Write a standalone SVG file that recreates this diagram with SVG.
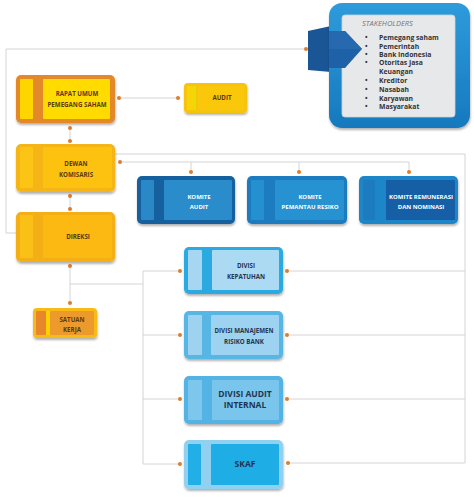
<svg xmlns="http://www.w3.org/2000/svg" width="474" height="498" viewBox="0 0 474 498">
<defs>
<filter id="sh" x="-10%" y="-10%" width="130%" height="140%"><feDropShadow dx="0.5" dy="2" stdDeviation="1.2" flood-color="#000" flood-opacity="0.3"/></filter>
<linearGradient id="stkG" x1="0" y1="0" x2="0" y2="1"><stop offset="0" stop-color="#2E9BDB"/><stop offset="1" stop-color="#1679BE"/></linearGradient>
</defs>
<style>
.ln{fill:none;stroke:#D4D4D4;stroke-width:1}
.dot{fill:#E07B2A}
text{font-family:"Open Sans","Liberation Sans",sans-serif;font-weight:bold;text-anchor:middle}
.ty{fill:#5A3A10;font-size:6.2px}
.tk{fill:#FFFFFF;font-size:6px}
.td{fill:#1F3550;font-size:6.2px}
.tdl{fill:#1F3550;font-size:8.5px}
.st{fill:#333;font-size:6.8px;text-anchor:start}
.bul{fill:#333;font-size:6.8px;text-anchor:start}
</style>
<rect width="474" height="498" fill="#FFFFFF"/>
<g id="connectors">
<path class="ln" d="M16,233 H6 V49 H306"/>
<path class="ln" d="M119,98 H178"/>
<path class="ln" d="M70,128 V141"/>
<path class="ln" d="M70,196 V209"/>
<path class="ln" d="M115,154 H465 V463"/>
<path class="ln" d="M120,162 H409 M191,162 V172 M299,162 V172 M409,162 V172"/>
<path class="ln" d="M70,266 V303 M70,284 H143 M143,271 V464 M143,271 H180 M143,335 H180 M143,399 H180 M143,464 H180"/>
<path class="ln" d="M287,271 H465 M287,335 H465 M287,399 H465 M288,463 H465"/>
<circle class="dot" cx="306" cy="49" r="2"/>
<circle class="dot" cx="119" cy="98" r="2"/>
<circle class="dot" cx="178" cy="98" r="2"/>
<circle class="dot" cx="70" cy="128" r="2"/>
<circle class="dot" cx="70" cy="141" r="2"/>
<circle class="dot" cx="70" cy="196" r="2"/>
<circle class="dot" cx="70" cy="209" r="2"/>
<circle class="dot" cx="120" cy="162" r="2"/>
<circle class="dot" cx="191" cy="172" r="2"/>
<circle class="dot" cx="299" cy="172" r="2"/>
<circle class="dot" cx="409" cy="172" r="2"/>
<circle class="dot" cx="70" cy="266" r="2"/>
<circle class="dot" cx="70" cy="303" r="2"/>
<circle class="dot" cx="180" cy="271" r="2"/>
<circle class="dot" cx="180" cy="335" r="2"/>
<circle class="dot" cx="180" cy="399" r="2"/>
<circle class="dot" cx="180" cy="464" r="2"/>
<circle class="dot" cx="287" cy="271" r="2"/>
<circle class="dot" cx="287" cy="335" r="2"/>
<circle class="dot" cx="287" cy="399" r="2"/>
<circle class="dot" cx="288" cy="463" r="2"/>
</g>
<g id="stakeholders">
<path d="M308,31 L331,26 L331,72 L308,70 Z" fill="#1A5595"/>
<rect x="329" y="3" width="141" height="125" rx="13" fill="url(#stkG)" filter="url(#sh)"/>
<rect x="342" y="15" width="113" height="102" rx="3" fill="#E7E8EA" stroke="#C9D3DC" stroke-width="0.8"/>
<path d="M329,31 L345,31 L362,49 L345,68 L329,68 Z" fill="#1F61A6"/>
<path d="M329,31 L345,31 L362,49 L329,49 Z" fill="#2669AE"/>
<text x="362" y="26" style="font-weight:normal;font-style:italic;font-size:7.5px;fill:#777;text-anchor:start">STAKEHOLDERS</text>
<text class="bul" x="365" y="40">•</text><text class="st" x="379" y="40">Pemegang saham</text>
<text class="bul" x="365" y="49">•</text><text class="st" x="379" y="49">Pemerintah</text>
<text class="bul" x="365" y="57">•</text><text class="st" x="379" y="57">Bank Indonesia</text>
<text class="bul" x="365" y="65">•</text><text class="st" x="379" y="65">Otoritas Jasa</text>
<text class="st" x="379" y="74">Keuangan</text>
<text class="bul" x="365" y="83">•</text><text class="st" x="379" y="83">Kreditor</text>
<text class="bul" x="365" y="92">•</text><text class="st" x="379" y="92">Nasabah</text>
<text class="bul" x="365" y="101">•</text><text class="st" x="379" y="101">Karyawan</text>
<text class="bul" x="365" y="109">•</text><text class="st" x="379" y="109">Masyarakat</text>
</g>
<g id="rups">
<rect x="16" y="75" width="99" height="48" rx="5" fill="#E3892A" filter="url(#sh)"/>
<rect x="20" y="79" width="13" height="40" rx="1" fill="#FFD500"/>
<rect x="43" y="79" width="67" height="40" rx="1" fill="#FFDB00"/>
<text class="ty" x="77" y="96">RAPAT UMUM</text>
<text class="ty" x="77" y="107">PEMEGANG SAHAM</text>
</g>
<g id="audit">
<rect x="184" y="83" width="63" height="30" rx="4" fill="#F6C40C" filter="url(#sh)"/>
<rect x="187" y="86" width="6" height="24" rx="1" fill="#FAD20A"/>
<rect x="193" y="86" width="3" height="24" fill="#E3E000"/>
<rect x="198" y="86" width="46" height="24" rx="1" fill="#FBC70A"/>
<text class="ty" x="222" y="100">AUDIT</text>
</g>
<g id="dewan">
<rect x="16" y="144" width="99" height="48" rx="5" fill="#F5B516" filter="url(#sh)"/>
<rect x="20" y="147" width="13" height="41" rx="1" fill="#FCC414"/>
<rect x="43" y="147" width="69" height="41" rx="1" fill="#FDC210"/>
<text class="ty" x="76" y="166">DEWAN</text>
<text class="ty" x="76" y="177">KOMISARIS</text>
</g>
<g id="direksi">
<rect x="16" y="212" width="99" height="50" rx="5" fill="#F5AF12" filter="url(#sh)"/>
<rect x="20" y="215" width="13" height="43" rx="1" fill="#FAC015"/>
<rect x="43" y="215" width="69" height="43" rx="1" fill="#FBB911"/>
<text class="ty" x="78" y="239">DIREKSI</text>
</g>
<g id="satuan">
<rect x="33" y="308" width="64" height="30" rx="4" fill="#F8BB12" filter="url(#sh)"/>
<rect x="36" y="311" width="10" height="24" rx="1" fill="#E8862C"/>
<rect x="46" y="311" width="4" height="24" fill="#FFD000"/>
<rect x="50" y="311" width="44" height="24" rx="1" fill="#ED9A2C"/>
<text class="ty" x="72" y="322">SATUAN</text>
<text class="ty" x="72" y="332">KERJA</text>
</g>
<g id="komite-audit">
<rect x="137" y="176" width="98" height="48" rx="5" fill="#14609F" filter="url(#sh)"/>
<rect x="141" y="180" width="13" height="40" rx="1" fill="#2A88C6"/>
<rect x="164" y="180" width="68" height="40" rx="1" fill="#2A8CCA"/>
<text class="tk" x="199" y="199">KOMITE</text>
<text class="tk" x="199" y="209">AUDIT</text>
</g>
<g id="komite-pemantau">
<rect x="247" y="176" width="100" height="48" rx="5" fill="#1C7CBF" filter="url(#sh)"/>
<rect x="251" y="180" width="13" height="40" rx="1" fill="#2590D0"/>
<rect x="275" y="180" width="69" height="40" rx="1" fill="#2792D2"/>
<text class="tk" x="310" y="199">KOMITE</text>
<text class="tk" x="310" y="209">PEMANTAU RESIKO</text>
</g>
<g id="komite-remunerasi">
<rect x="359" y="176" width="99" height="48" rx="5" fill="#1E86C8" filter="url(#sh)"/>
<rect x="363" y="180" width="12" height="40" rx="1" fill="#1D7CBF"/>
<rect x="386" y="180" width="69" height="40" rx="1" fill="#165FA6"/>
<text class="tk" x="421" y="199">KOMITE REMUNERASI</text>
<text class="tk" x="421" y="209">DAN NOMINASI</text>
</g>
<g id="divisi-kepatuhan">
<rect x="184" y="247" width="99" height="47" rx="5" fill="#2CAAE1" filter="url(#sh)"/>
<rect x="188" y="250" width="14" height="40" rx="1" fill="#A6D6F1"/>
<rect x="212" y="250" width="67" height="40" rx="1" fill="#ADDAF3"/>
<text class="td" x="246" y="268">DIVISI</text>
<text class="td" x="246" y="279">KEPATUHAN</text>
</g>
<g id="divisi-manajemen">
<rect x="184" y="311" width="99" height="48" rx="5" fill="#58B6E5" filter="url(#sh)"/>
<rect x="188" y="315" width="14" height="40" rx="1" fill="#9ED2F0"/>
<rect x="211" y="315" width="68" height="40" rx="1" fill="#9DD3F1"/>
<text class="td" x="244" y="333">DIVISI MANAJEMEN</text>
<text class="td" x="244" y="344">RISIKO BANK</text>
</g>
<g id="divisi-audit-internal">
<rect x="184" y="376" width="99" height="48" rx="5" fill="#52B3E4" filter="url(#sh)"/>
<rect x="188" y="380" width="14" height="40" rx="1" fill="#7DC6EC"/>
<rect x="212" y="380" width="67" height="40" rx="1" fill="#79C5EC"/>
<text class="tdl" x="245" y="397">DIVISI AUDIT</text>
<text class="tdl" x="245" y="408">INTERNAL</text>
</g>
<g id="skaf">
<rect x="184" y="440" width="99" height="49" rx="5" fill="#90D1F1" filter="url(#sh)"/>
<rect x="188" y="444" width="13" height="41" rx="1" fill="#22AEE6"/>
<rect x="211" y="444" width="68" height="41" rx="1" fill="#1FADE6"/>
<text class="tdl" x="245" y="467">SKAF</text>
</g>
</svg>
